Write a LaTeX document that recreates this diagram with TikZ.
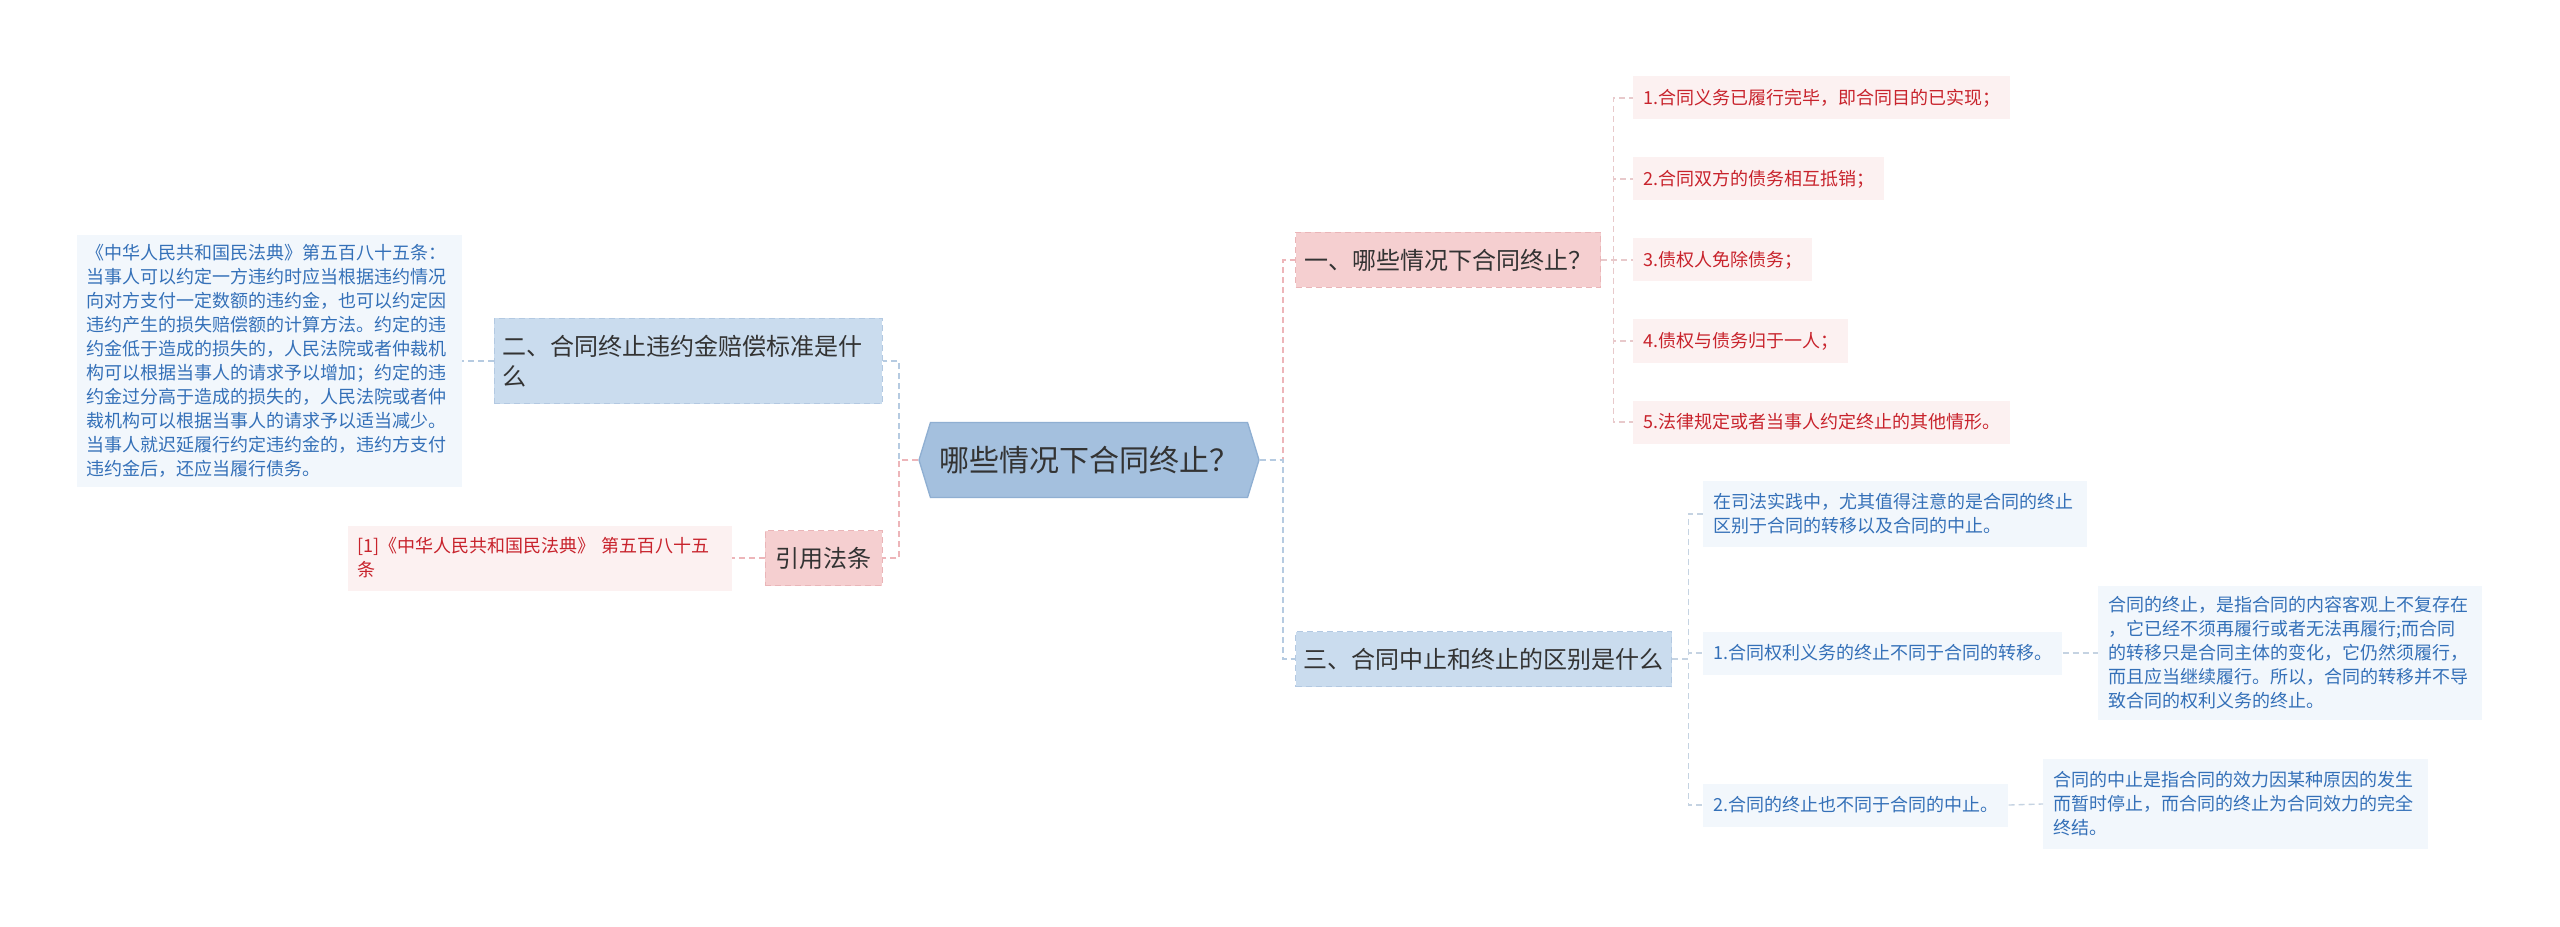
\documentclass[tikz,border=0pt]{standalone}
\usepackage{fontspec}
\setmainfont{Noto Sans CJK SC}
\usetikzlibrary{shapes.symbols}
\newdimen\PX \PX=0.75pt
\definecolor{rootfill}{HTML}{A4C0DE}
\definecolor{rootdraw}{HTML}{8FAFD2}
\definecolor{pinkfill}{HTML}{F5CFD0}
\definecolor{pinkdraw}{HTML}{EAB5B8}
\definecolor{bluefill}{HTML}{CADCEE}
\definecolor{bluedraw}{HTML}{B3C9E2}
\definecolor{leafpink}{HTML}{FCF1F1}
\definecolor{leafblue}{HTML}{F2F7FC}
\definecolor{redtxt}{HTML}{C8232C}
\definecolor{bluetxt}{HTML}{3470B8}
\definecolor{darktxt}{HTML}{333333}
\definecolor{linkpink}{HTML}{EDB5B9}
\definecolor{linkblue}{HTML}{B6CBE1}
\definecolor{sublinkpink}{HTML}{E8C9CB}
\definecolor{sublinkblue}{HTML}{C5D3E2}
\begin{document}
\begin{tikzpicture}[x=0.75pt,y=-0.75pt,
  rootnode/.style={signal, signal to=west and east, signal pointer angle=146,
    fill=rootfill, draw=rootdraw, line width=1pt, minimum width=340\PX, minimum height=75\PX,
    text=darktxt, font=\fontsize{22.5}{27}\selectfont, inner xsep=4\PX},
  mainnode/.style={dashed, dash pattern=on 4.5pt off 3pt, line width=1.1pt, text=darktxt,
    font=\fontsize{18}{22.5}\selectfont, inner xsep=8\PX, inner ysep=4\PX, align=left},
  mainpink/.style={mainnode, fill=pinkfill, draw=pinkdraw},
  mainblue/.style={mainnode, fill=bluefill, draw=bluedraw},
  leaf/.style={font=\fontsize{13.5}{18}\selectfont, inner xsep=10\PX, inner ysep=4\PX,
    minimum height=43\PX, align=left},
  leafp/.style={leaf, fill=leafpink, text=redtxt},
  leafb/.style={leaf, fill=leafblue, text=bluetxt},
  link/.style={dash pattern=on 4.5pt off 3pt, line width=1.5pt},
  sublink/.style={dash pattern=on 4.5pt off 3pt, line width=1pt}
]
\useasboundingbox[fill=white] (0,0) rectangle (2560,927);

% root
\node[rootnode] (root) at (1089,460) {哪些情况下合同终止？};

% level 1
\node[mainpink, anchor=west, minimum width=305\PX, minimum height=55\PX] (n1) at (1295,260) {一、哪些情况下合同终止？};
\node[mainblue, anchor=west, minimum width=376\PX, minimum height=55\PX] (n3) at (1295,659) {三、合同中止和终止的区别是什么};
\node[mainblue, anchor=east, text width=372\PX, minimum height=85\PX] (n2) at (883,361) {二、合同终止违约金赔偿标准是什\\么};
\node[mainpink, anchor=east, minimum width=117\PX, minimum height=55\PX] (n4) at (883,558) {引用法条};

% children of n1
\node[leafp, anchor=west] (p1) at (1633,98) {1.合同义务已履行完毕，即合同目的已实现；};
\node[leafp, anchor=west] (p2) at (1633,179) {2.合同双方的债务相互抵销；};
\node[leafp, anchor=west] (p3) at (1633,260) {3.债权人免除债务；};
\node[leafp, anchor=west] (p4) at (1633,341) {4.债权与债务归于一人；};
\node[leafp, anchor=west] (p5) at (1633,422) {5.法律规定或者当事人约定终止的其他情形。};

% children of n3
\node[leafb, anchor=west, text width=364\PX, minimum height=66\PX] (b1) at (1703,514) {在司法实践中，尤其值得注意的是合同的终止\\区别于合同的转移以及合同的中止。};
\node[leafb, anchor=west] (b2) at (1703,653) {1.合同权利义务的终止不同于合同的转移。};
\node[leafb, anchor=west] (b3) at (1703,805) {2.合同的终止也不同于合同的中止。};
\node[leafb, anchor=west, text width=364\PX, minimum height=134\PX] (b2c) at (2098,653) {合同的终止，是指合同的内容客观上不复存在\\，它已经不须再履行或者无法再履行;而合同\\的转移只是合同主体的变化，它仍然须履行，\\而且应当继续履行。所以，合同的转移并不导\\致合同的权利义务的终止。};
\node[leafb, anchor=west, text width=365\PX, minimum height=90\PX] (b3c) at (2043,804) {合同的中止是指合同的效力因某种原因的发生\\而暂时停止，而合同的终止为合同效力的完全\\终结。};

% children of left side
\node[leafb, anchor=east, text width=365\PX, minimum height=252\PX] (big) at (462,361) {《中华人民共和国民法典》第五百八十五条：\\当事人可以约定一方违约时应当根据违约情况\\向对方支付一定数额的违约金，也可以约定因\\违约产生的损失赔偿额的计算方法。约定的违\\约金低于造成的损失的，人民法院或者仲裁机\\构可以根据当事人的请求予以增加；约定的违\\约金过分高于造成的损失的，人民法院或者仲\\裁机构可以根据当事人的请求予以适当减少。\\当事人就迟延履行约定违约金的，违约方支付\\违约金后，还应当履行债务。};
\node[leafp, anchor=east, text width=364\PX, minimum height=65\PX] (cite) at (732,558) {[1]《中华人民共和国民法典》 第五百八十五\\条};

% links from root
\draw[link, linkpink] (root.east) -- ++(23,0) |- (n1.west);
\draw[link, linkblue] (root.east) -- ++(23,0) |- (n3.west);
\draw[link, linkblue] (root.west) -- ++(-19,0) |- (n2.east);
\draw[link, linkpink] (root.west) -- ++(-19,0) |- (n4.east);

% links level 2
\foreach \c in {p1,p2,p3,p4,p5}
  \draw[sublink, sublinkpink] (n1.east) -- ++(12,0) |- (\c.west);
\foreach \c in {b1,b2,b3}
  \draw[sublink, sublinkblue] (n3.east) -- ++(16,0) |- (\c.west);
\draw[link, linkblue] (n2.west) -- (big.east);
\draw[link, linkpink] (n4.west) -- (cite.east);
\draw[sublink, sublinkblue] (b2.east) -- (b2c.west);
\draw[sublink, sublinkblue] (b3.east) -- (b3c.west);
\end{tikzpicture}
\end{document}
